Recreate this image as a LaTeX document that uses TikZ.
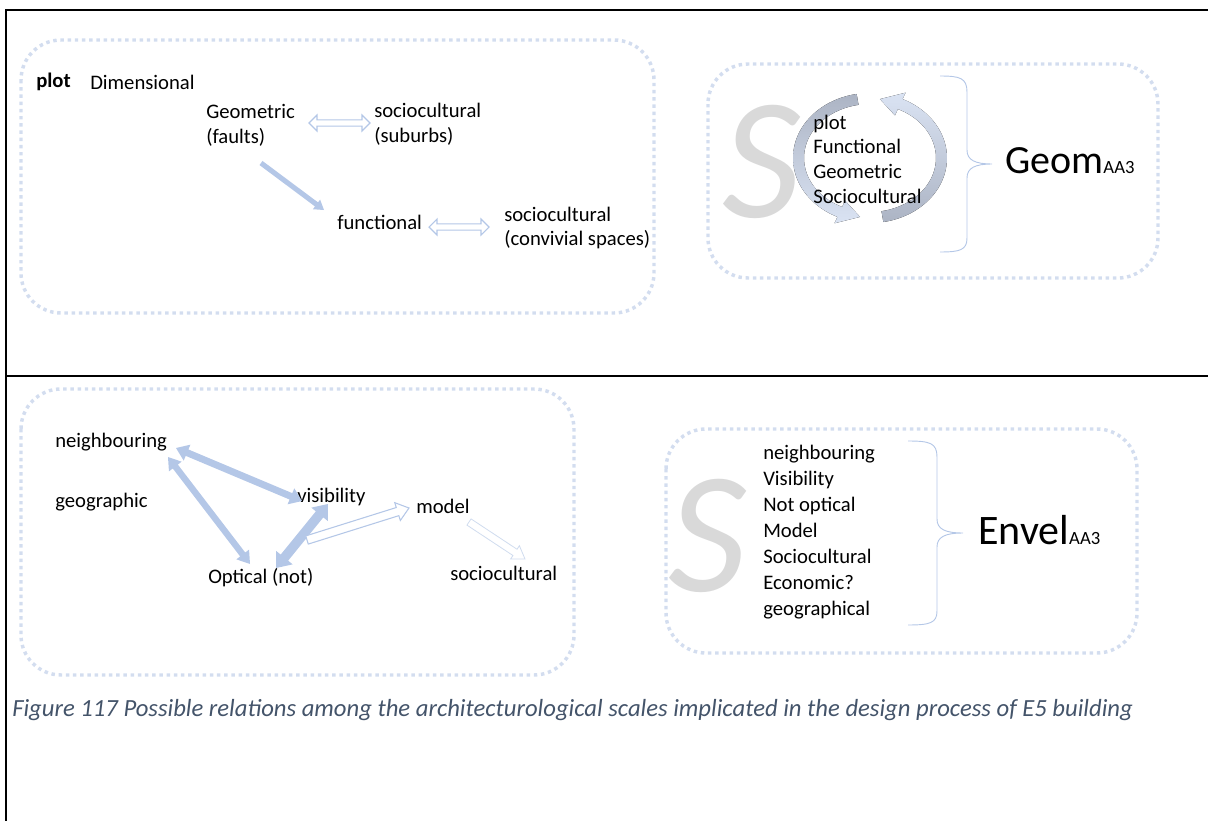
\documentclass[tikz,border=0pt]{standalone}
\usepackage{fontspec}
\setmainfont{Carlito}
\usetikzlibrary{calc,arrows.meta}
\definecolor{dotcol}{HTML}{D3DDEF}
\definecolor{arrblue}{HTML}{B4C7E7}
\definecolor{arrlight}{HTML}{D0DCEF}
\definecolor{darkarc}{HTML}{ACB4C4}
\definecolor{lightarc}{HTML}{DAE3F3}
\definecolor{sgrey}{HTML}{D9D9D9}
\definecolor{capcol}{HTML}{44546A}
\definecolor{bracecol}{HTML}{B4C7E7}
\tikzset{
  lbl/.style={anchor=west, inner sep=0pt, font=\fontsize{15.5}{18.5}\selectfont, align=left},
  dotbox/.style={draw=dotcol, line width=2.6pt, dash pattern=on 2.6pt off 2.8pt, rounded corners=30pt},
  frame/.style={draw=black, line width=1.5pt},
  solidarr/.style={fill=arrblue, draw=none},
  hollowarr/.style={fill=white, draw=arrblue, line width=0.8pt},
  hollowlight/.style={fill=white, draw=arrlight, line width=0.6pt},
  bracestyle/.style={draw=bracecol, line width=0.7pt},
  bigS/.style={inner sep=0pt, text=sgrey, font=\fontsize{130}{130}\selectfont\itshape}
}
% #1 style, #2 start, #3 end, #4 body half, #5 head half, #6 head length
\newcommand{\sblockarrow}[6]{%
 \coordinate (bkB) at ($(#3)!#6!(#2)$);
 \path[#1] ($(#2)!#4!90:(#3)$) -- ($(bkB)!#4!-90:(#2)$) -- ($(bkB)!#5!-90:(#2)$) -- (#3) -- ($(bkB)!#5!90:(#2)$) -- ($(bkB)!#4!90:(#2)$) -- ($(#2)!#4!-90:(#3)$) -- cycle;}
\newcommand{\dblockarrow}[6]{%
 \coordinate (bkA) at ($(#2)!#6!(#3)$);
 \coordinate (bkB) at ($(#3)!#6!(#2)$);
 \path[#1] (#2) -- ($(bkA)!#5!90:(#3)$) -- ($(bkA)!#4!90:(#3)$) -- ($(bkB)!#4!-90:(#2)$) -- ($(bkB)!#5!-90:(#2)$) -- (#3) -- ($(bkB)!#5!90:(#2)$) -- ($(bkB)!#4!90:(#2)$) -- ($(bkA)!#4!-90:(#3)$) -- ($(bkA)!#5!-90:(#3)$) -- cycle;}
\begin{document}
\begin{tikzpicture}[x=0.75pt,y=-0.75pt]
\useasboundingbox (0,0) rectangle (1208,821);
% table frame
\draw[frame] (1208,10) -- (6,10) -- (6,821);
\draw[frame] (6,376) -- (1208,376);
% dotted boxes
\draw[dotbox] (21,40) rectangle (654,313);
\draw[dotbox] (708,64) rectangle (1158,278);
\draw[dotbox] (21,389) rectangle (574,675);
\draw[dotbox] (666,429) rectangle (1137,653);

% ---------- top-left ----------
\node[lbl, font=\fontsize{15.5}{18.5}\selectfont\bfseries] (plotA) at (36,82) {plot};
\node[lbl] (dim) at (90,82) {Dimensional};
\node[lbl] (geo) at (206,125) {Geometric\\(faults)};
\node[lbl] (soc1) at (374,124) {sociocultural\\(suburbs)};
\node[lbl] (func) at (337,222) {functional};
\node[lbl] (soc2) at (504,228) {sociocultural\\(convivial spaces)};
\coordinate (g1) at (309,123); \coordinate (s1) at (370,123);
\dblockarrow{hollowarr}{g1}{s1}{2.3pt}{6pt}{6pt}
\coordinate (f1) at (429,227); \coordinate (s2) at (489,227);
\dblockarrow{hollowarr}{f1}{s2}{2.3pt}{6pt}{6pt}
\coordinate (g2) at (261,163); \coordinate (f2) at (324,210);
\sblockarrow{solidarr}{g2}{f2}{1.9pt}{4.5pt}{7pt}

% ---------- top-right ----------
\node[bigS] (S1) at (762,162) {S};
\fill[top color=darkarc, bottom color=lightarc]
  plot[domain=100:245,samples=40] ({870+77*cos(\x)},{158-65*sin(\x)})
  -- ({870+84*cos(245)},{158-72*sin(245)})
  -- ({870+71.5*cos(262)},{158-59.5*sin(262)})
  -- ({870+59*cos(245)},{158-47*sin(245)})
  -- plot[domain=245:100,samples=40] ({870+66*cos(\x)},{158-54*sin(\x)}) -- cycle;
\fill[top color=lightarc, bottom color=darkarc]
  plot[domain=-80:65,samples=40] ({870+77*cos(\x)},{158-65*sin(\x)})
  -- ({870+84*cos(65)},{158-72*sin(65)})
  -- ({870+71.5*cos(82)},{158-59.5*sin(82)})
  -- ({870+59*cos(65)},{158-47*sin(65)})
  -- plot[domain=65:-80,samples=40] ({870+66*cos(\x)},{158-54*sin(\x)}) -- cycle;
\node[lbl, font=\fontsize{15.5}{18.5}\selectfont] (list1) at (813,159) {plot\\Functional\\Geometric\\Sociocultural};
\draw[bracestyle] (940,76) .. controls (960,76) and (967,78) .. (967,92) -- (967,150) .. controls (967,160) and (975,164) .. (992,164) .. controls (975,164) and (967,168) .. (967,178) -- (967,238) .. controls (967,250) and (960,252) .. (940,252);
\node[anchor=base west, inner sep=0pt, font=\fontsize{30}{30}\selectfont] (geom) at (1005,173) {Geom{\fontsize{14}{14}\selectfont AA3}};

% ---------- bottom-left ----------
\node[lbl] (neigh) at (55,442) {neighbouring};
\node[lbl] (geog) at (55,502) {geographic};
\node[lbl] (vis) at (297,497) {visibility};
\node[lbl] (model) at (416,506) {model};
\node[lbl] (opt) at (208,578) {Optical (not)};
\node[lbl] (soc3) at (450,573) {sociocultural};
\coordinate (n1) at (176,448); \coordinate (v1) at (302,501);
\dblockarrow{solidarr}{n1}{v1}{2.6pt}{6.5pt}{9pt}
\coordinate (n2) at (168,457); \coordinate (o1) at (250,564);
\dblockarrow{solidarr}{n2}{o1}{2.4pt}{6pt}{9pt}
\coordinate (v2) at (328,504); \coordinate (o2) at (276,568);
\dblockarrow{solidarr}{v2}{o2}{3.6pt}{8pt}{10pt}
\coordinate (o3) at (307,540); \coordinate (m1) at (409,508);
\sblockarrow{hollowarr}{o3}{m1}{3.2pt}{7pt}{9pt}
\coordinate (m2) at (469,522); \coordinate (s3) at (525,559);
\sblockarrow{hollowlight}{m2}{s3}{2.8pt}{6pt}{9pt}

% ---------- bottom-right ----------
\node[bigS] (S2) at (708,536) {S};
\node[lbl, font=\fontsize{15.5}{19.5}\selectfont] (list2) at (763,532) {neighbouring\\Visibility\\Not optical\\Model\\Sociocultural\\Economic?\\geographical};
\draw[bracestyle] (908,441) .. controls (930,441) and (937,443) .. (937,457) -- (937,519) .. controls (937,529) and (945,533) .. (963,533) .. controls (945,533) and (937,537) .. (937,547) -- (937,611) .. controls (937,623) and (930,625) .. (908,625);
\node[anchor=base west, inner sep=0pt, font=\fontsize{31.5}{31.5}\selectfont] (envel) at (978,544) {Envel{\fontsize{14}{14}\selectfont AA3}};

% ---------- caption ----------
\node[anchor=west, inner sep=0pt, text=capcol, font=\fontsize{18.5}{22}\selectfont\itshape] (cap) at (12,710) {Figure 117 Possible relations among the architecturological scales implicated in the design process of E5 building};
\end{tikzpicture}
\end{document}
